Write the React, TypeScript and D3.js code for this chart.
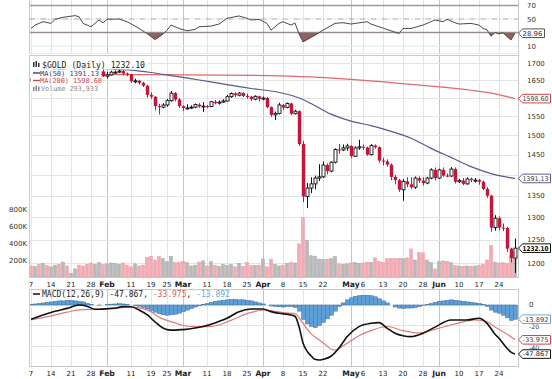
import React from "react";
import * as d3 from "d3";

// ---------- DATA ----------
const openP = [1657,1647,1657,1655,1677,1662,1669,1683,1681,1689,1687,1692,1692,1685,1669,1659,1654,1661,1676,1662,
1666,1674,1674,1677,1670,1667,1648,1649,1643,1635,1609,1604,1578,1575,1581,1593,1614,1596,1578,1573,
1573,1575,1582,1577,1578,1577,1590,1586,1589,1592,1604,1613,1608,1614,1606,1604,1597,1605,1598,1600,
1575,1554,1558,1581,1574,1585,1557,1564,1477,1348,1368,1378,1392,1395,1424,1409,1431,1463,1462,1467,
1472,1446,1467,1470,1468,1450,1473,1469,1435,1433,1425,1395,1387,1364,1384,1377,1370,1392,1386,1380,
1392,1412,1392,1412,1398,1397,1414,1383,1386,1378,1390,1387,1387,1383,1366,1350,1277,1298,1277,1276,
1231,1211];
const highP = [1662,1662,1663,1680,1681,1672,1686,1688,1693,1693,1695,1697,1696,1687,1672,1663,1666,1681,1684,1675,
1678,1679,1683,1680,1673,1669,1655,1652,1646,1637,1616,1605,1584,1586,1598,1620,1617,1600,1580,1583,
1580,1585,1586,1589,1581,1592,1595,1593,1597,1609,1616,1616,1617,1617,1612,1606,1608,1607,1604,1603,
1577,1563,1587,1584,1588,1587,1568,1566,1485,1380,1394,1398,1426,1433,1428,1433,1466,1477,1476,1478,
1474,1471,1488,1476,1470,1477,1476,1471,1442,1438,1428,1400,1390,1390,1394,1394,1396,1396,1394,1395,
1416,1418,1415,1418,1403,1419,1418,1390,1392,1394,1393,1392,1390,1386,1370,1352,1305,1302,1286,1279,
1233,1253];
const lowP = [1640,1643,1650,1652,1658,1660,1666,1677,1678,1682,1684,1686,1680,1664,1655,1649,1651,1659,1660,1656,
1664,1669,1671,1665,1662,1643,1642,1638,1631,1601,1598,1566,1555,1572,1576,1590,1591,1573,1565,1568,
1570,1572,1573,1562,1572,1575,1583,1582,1587,1590,1601,1603,1605,1603,1598,1592,1594,1591,1594,1572,
1549,1540,1555,1567,1572,1553,1555,1472,1335,1321,1356,1365,1385,1392,1401,1406,1428,1452,1459,1460,
1442,1444,1462,1462,1447,1448,1465,1430,1423,1420,1387,1377,1359,1338,1370,1366,1366,1380,1374,1377,
1389,1386,1390,1395,1394,1395,1379,1380,1375,1376,1382,1381,1376,1363,1345,1268,1270,1271,1269,1224,
1202,1180];
const closeP = [1647,1657,1655,1677,1662,1669,1683,1681,1689,1687,1692,1692,1685,1669,1659,1654,1661,1676,1662,1666,
1674,1674,1677,1670,1667,1648,1649,1643,1635,1609,1604,1578,1575,1581,1593,1614,1596,1578,1573,1573,
1575,1582,1577,1578,1577,1590,1586,1589,1592,1604,1613,1608,1614,1606,1604,1597,1605,1598,1600,1575,
1554,1558,1581,1574,1585,1557,1564,1477,1348,1368,1378,1392,1395,1424,1409,1431,1463,1462,1467,1472,
1446,1467,1470,1468,1450,1473,1469,1435,1433,1425,1395,1387,1364,1384,1377,1370,1392,1386,1380,1392,
1412,1392,1412,1398,1397,1414,1383,1386,1378,1390,1387,1387,1383,1366,1350,1277,1298,1277,1276,1231,
1211,1232.1];
const volumeK = [130,125,150,160,135,120,140,150,175,130,
45,95,140,130,150,165,150,170,145,155,
165,160,150,165,140,120,155,130,140,230,
245,200,240,215,180,245,170,175,185,170,
130,140,175,190,130,180,140,125,150,135,
150,120,160,125,170,135,135,140,210,120,
210,150,130,140,160,175,165,390,700,430,
250,245,210,205,210,215,240,155,150,155,
165,170,160,165,175,170,225,185,170,215,
220,215,220,215,225,330,200,290,285,200,
170,95,180,190,185,170,135,130,125,130,
125,130,140,150,200,370,175,165,170,160,
250,294];
const histVal = [0.5,1,1.5,2, 2.5,3,3.5,4,4, 4.5,4.5,4,3.5,3, 1.5,0.5,0,-0.2,0,0.3,
0.8,1,1.2,1,0.5, 0,-0.5,-1.2, -2.5,-4,-5.5,-7,-8.5, -9.5,-10,-9.5,-9,-8, -6.5,-5,-3.5,-2,-0.8,
0.5,1.5,2.5,3.5,4, 4.5,5,5.5,5.5,5, 5,4.5,4,3,2, 1,0,-1, -1.5,-1.8,-2,-1.5,-1.5,
-2.5,-6,-14,-18.5,-21,-22,-20,-17,-13.5,-10,-6,-1.5,
2,5,7,8.5,9,9.5,9.5,9,8,6,4,2,0,
-2,-3,-3.5,-3,-3,-2.5,-1.5,-0.5,
0.5,1.5,2.5,3.5,4,4.5,5,4.5,4,3.5,3,2.5,2,1.5,0.5,
-1.5,-5,-7,-8,-10,-12.5,-15,-13.892];

const macdIdx = [0,3,6,9,12,14,16,18,21,23,25,27,29,31,33,34,36,38,41,43,46,49,52,55,58,60,62,65,66,67,68,69,70,71,72,73,75,77,79,82,85,87,89,91,93,95,98,101,105,109,112,114,116,117,119,120,121];
const macdVal = [-14,-9.8,-6.2,-3.3,0,-1.2,-4.2,-4,-3,-1.6,-1.8,-4.9,-9.5,-16.5,-22.5,-24,-24.5,-24,-22.5,-21,-17.5,-13,-6.5,-3.9,-3.9,-6.5,-8.1,-9.8,-11,-21,-37,-45,-49.5,-53,-53.7,-53,-50,-42,-31,-21.1,-17.9,-17.2,-22.5,-27.5,-30,-30.9,-27.6,-21.6,-14.6,-14.6,-13,-17.9,-28.5,-32.4,-42.2,-46,-47.867];
const signalIdx = [0,5,9,12,16,21,25,28,30,32,34,36,38,40,44,47,50,54,58,60,63,66,68,70,72,74,75,76,78,80,82,85,89,93,97,101,106,111,114,116,118,120,121];
const signalVal = [-14.5,-10.7,-7,-4.8,-4.2,-3.5,-1.8,-3.5,-6.5,-12,-15,-17.5,-20,-21,-21.1,-19.5,-15,-8.5,-4.9,-5.5,-7.5,-8.5,-18,-28,-34,-40,-43,-44,-40,-35,-30,-25,-21,-25,-27.3,-23.8,-18.5,-14.6,-16.4,-21.5,-26,-31,-33.975];

const rsiIdx = [0,1,3,5,6,8,11,12,13,15,17,18,19,22,24,26,27,29,31,33,34,35,37,39,41,42,45,47,49,52,54,55,57,59,60,62,63,65,66,67,68,71,73,76,78,80,84,85,87,89,92,93,95,98,100,101,103,104,106,107,110,112,113,114,115,116,117,118,119,120,121];
const rsiVal = [36,41,46,43.5,49.5,52.5,55,53.5,43.5,38.5,48.5,44.5,49.5,50,46,39.5,36,28.5,19.5,27.5,33.5,41,36,32.5,34.5,38.5,39.5,42.5,51,54.5,51,48.5,49.5,43.5,33.5,43.5,46,41,44,28,16,26,33.5,43.5,44.5,42.5,46,42.5,38.5,34.5,28.5,36,36,41,46,48.5,46,49.5,44.5,42.5,43.5,41,36,34,24.5,30,28,29.5,24,19,28.96];

const ma50Idx = [0,10,15,20,25,30,35,40,45,50,55,60,65,68,70,75,80,85,90,95,100,105,110,115,118,121];
const ma50Val = [1692,1688,1686,1683,1680,1673,1664,1655,1646,1636,1627,1620,1608,1596,1585,1556,1537,1525,1510,1492,1466,1443,1420,1403,1396,1391.13];
const ma200Idx = [0,20,40,60,70,80,90,100,110,116,121];
const ma200Val = [1668,1667,1666,1664,1660,1653,1644,1634,1622,1612,1598.6];

const xTickIdx = [0,5,10,15,19,25,30,34,38,44,49,54,58,63,68,73,80,83,88,93,98,102,107,112,117];
const xTickLabel = ["7","14","21","28","Feb","11","19","25","Mar","11","18","25","Apr","8","15","22","May","6","13","20","28","Jun","10","17","24"];
const monthLabels = ["Feb","Mar","Apr","May","Jun"];
const priceTicks = [1200,1250,1300,1350,1400,1450,1500,1550,1600,1650,1700];
const volTicks = [200,400,600,800];
const rsiTicks = [70,50,10];
const macdTicks = [0,-20,-40];

// ---------- LAYOUT ----------
const FONT = "'DejaVu Sans', Verdana, sans-serif";
const MONO = "'DejaVu Sans Mono', monospace";
const X0 = 29.5, X1 = 518.5;
const RSI_BOT = 53.5;
const MAIN_TOP = 55.5, MAIN_BOT = 277.5;
const MACD_TOP = 289.5, MACD_BOT = 366.5;

function Tag({ y, text, stroke, color = "#333", bold = false, w = 32 }: any) {
  const x0 = 518.5, h = 4.3;
  const d = `M${x0},${y} L${x0 + 4},${y - h} L${x0 + w},${y - h} L${x0 + w},${y + h} L${x0 + 4},${y + h} Z`;
  return (
    <g>
      <path d={d} fill="#fff" stroke={stroke} strokeWidth={1} />
      <text x={x0 + 4} y={y + 2.4} fontSize={6.6} fontWeight={bold ? "bold" : "normal"} fill={color} fontFamily={FONT}
        textLength={w - 6} lengthAdjust="spacingAndGlyphs">{text}</text>
    </g>
  );
}

export default function App() {
  const N = closeP.length;
  const xc = d3.scaleLinear().domain([0, N - 1]).range([31, 515]);
  const yP = d3.scaleLog().domain([1200, 1700]).range([263.3, 63.3]);
  const yV = d3.scaleLinear().domain([0, 800]).range([277, 209]);
  const yR = d3.scaleLinear().domain([0, 100]).range([52.75, -14.75]);
  const yM = d3.scaleLinear().domain([-60, 15]).range([366.5, 289.6]);
  const px = (i: number) => Math.round(xc(i));

  const ma50Line = d3.line<number>().x((_, k) => xc(ma50Idx[k])).y((v) => yP(v)).curve(d3.curveMonotoneX)(ma50Val) || "";
  const ma200Line = d3.line<number>().x((_, k) => xc(ma200Idx[k])).y((v) => yP(v)).curve(d3.curveMonotoneX)(ma200Val) || "";
  const macdLine = d3.line<number>().x((_, k) => xc(macdIdx[k])).y((v) => yM(v)).curve(d3.curveMonotoneX)(macdVal) || "";
  const sigLine = d3.line<number>().x((_, k) => xc(signalIdx[k])).y((v) => yM(v)).curve(d3.curveMonotoneX)(signalVal) || "";
  const rsiLine = d3.line<number>().x((_, k) => xc(rsiIdx[k])).y((v) => yR(v))(rsiVal) || "";
  const rsiArea = d3.area<number>().x((_, k) => xc(rsiIdx[k])).y0(yR(30)).y1((v) => yR(v))(rsiVal) || "";

  // tags hide the tick labels under them, as in the reference
  const hiddenPrice = [1600, 1400];

  const vLines = (top: number, bot: number) =>
    xTickIdx.map((i, k) => {
      const isM = monthLabels.includes(xTickLabel[k]);
      return <line key={"v" + k} x1={px(i) + 0.5} x2={px(i) + 0.5} y1={top} y2={bot} stroke={isM ? "#c4c4c4" : "#e4e4e4"} strokeWidth={1} />;
    });

  const dateRow = (yb: number) =>
    xTickIdx.map((i, k) => {
      const isM = monthLabels.includes(xTickLabel[k]);
      return (
        <text key={"d" + yb + k} x={xc(i)} y={yb} textAnchor="middle" fontSize={isM ? 7.6 : 7} fontWeight={isM ? "bold" : "normal"} fill="#222" fontFamily={FONT}>
          {xTickLabel[k]}
        </text>
      );
    });

  return (
    <svg width={552} height={379} style={{ position: "absolute", left: 0, top: 0, background: "#fff" }}>
      <rect x={0} y={0} width={552} height={379} fill="#fff" />
      <defs>
        <clipPath id="rsiLow"><rect x={X0} y={yR(30)} width={X1 - X0} height={RSI_BOT - yR(30)} /></clipPath>
        <clipPath id="rsiPanel"><rect x={X0} y={0} width={X1 - X0} height={RSI_BOT} /></clipPath>
      </defs>

      {/* ---------- RSI panel ---------- */}
      {vLines(0, RSI_BOT)}
      <line x1={X0} x2={X1} y1={yR(10)} y2={yR(10)} stroke="#e6e6e6" />
      <line x1={X0} x2={X1} y1={yR(70)} y2={yR(70)} stroke="#9a9a9a" strokeWidth={1.3} />
      <line x1={X0} x2={X1} y1={yR(30)} y2={yR(30)} stroke="#9a9a9a" strokeWidth={1.3} />
      <line x1={X0} x2={X1} y1={yR(50)} y2={yR(50)} stroke="#a0a0a0" strokeWidth={0.9} strokeDasharray="6,2,1,2" />
      <path d={rsiArea} fill="#93605f" clipPath="url(#rsiLow)" />
      <path d={rsiLine} fill="none" stroke="#4a4a4a" strokeWidth={1} clipPath="url(#rsiPanel)" />
      <line x1={X0} x2={X0} y1={0} y2={RSI_BOT} stroke="#c8c8c8" />
      <line x1={X1} x2={X1} y1={0} y2={RSI_BOT} stroke="#c8c8c8" />
      <line x1={X0} x2={X1} y1={RSI_BOT} y2={RSI_BOT} stroke="#d0d0d0" strokeDasharray="1,1" />
      {rsiTicks.map((t) => (
        <text key={"r" + t} x={527} y={yR(t) + 2.5} fontSize={7} fill="#333" fontFamily={FONT}>{t}</text>
      ))}
      <Tag y={yR(28.96)} text="28.96" stroke="#555" w={26} />

      {/* ---------- Main panel ---------- */}
      {vLines(MAIN_TOP, MAIN_BOT)}
      {priceTicks.map((t) => (
        <line key={"h" + t} x1={X0} x2={X1} y1={Math.round(yP(t)) + 0.5} y2={Math.round(yP(t)) + 0.5} stroke="#e4e4e4" />
      ))}
      {/* volume */}
      {volumeK.map((v, i) => {
        const up = i === 0 ? closeP[i] >= openP[i] : closeP[i] >= closeP[i - 1];
        return (
          <rect key={"vb" + i} x={px(i) - 1.5} y={yV(v)} width={3} height={yV(0) - yV(v)}
            fill={up ? "#b9b9b9" : "#f3aab2"} stroke={up ? "#a5a5a5" : "#e99aa3"} strokeWidth={0.5} />
        );
      })}
      {/* moving averages */}
      <path d={ma200Line} fill="none" stroke="#e06a6a" strokeWidth={1.2} />
      <path d={ma50Line} fill="none" stroke="#585a92" strokeWidth={1.2} />
      {/* candles */}
      {closeP.map((c, i) => {
        const o = openP[i], h = highP[i], l = lowP[i];
        const up = c >= o;
        const x = px(i);
        const yTop = yP(Math.max(o, c)), yBot = yP(Math.min(o, c));
        const col = up ? "#111" : "#c4153a";
        return (
          <g key={"c" + i}>
            <line x1={x + 0.5} x2={x + 0.5} y1={yP(h)} y2={yP(l)} stroke={col} strokeWidth={1} />
            {up ? (
              <rect x={x - 1} y={yTop} width={3} height={Math.max(1, yBot - yTop)} fill="#fff" stroke="#111" strokeWidth={0.9} />
            ) : (
              <rect x={x - 1.2} y={yTop} width={3.4} height={Math.max(1, yBot - yTop)} fill="#c4153a" />
            )}
          </g>
        );
      })}
      {/* legend */}
      <rect x={X0 + 1} y={MAIN_TOP + 1} width={117} height={13} fill="#fff" />
      <rect x={X0 + 1} y={MAIN_TOP + 14} width={71} height={23} fill="#fff" />
      <g fontFamily={MONO}>
        <g fill="#333">
          <rect x={33} y={62} width={1.5} height={5} />
          <rect x={35.5} y={61} width={1.5} height={6} />
          <rect x={38} y={63} width={1.5} height={4} />
        </g>
        <text x={42} y={67.5} fill="#222" fontSize={8} textLength={103} lengthAdjust="spacingAndGlyphs">$GOLD (Daily) 1232.10</text>
        <line x1={33} x2={40} y1={73} y2={73} stroke="#3b3d78" strokeWidth={1.4} />
        <text x={40} y={75.5} fill="#3b3d78" fontSize={7} textLength={59} lengthAdjust="spacingAndGlyphs">MA(50) 1391.13</text>
        <line x1={33} x2={40} y1={80.5} y2={80.5} stroke="#d04545" strokeWidth={1.4} />
        <text x={40} y={83} fill="#d04545" fontSize={7} textLength={62} lengthAdjust="spacingAndGlyphs">MA(200) 1598.60</text>
        <g fill="#888">
          <rect x={33} y={87} width={1.5} height={4} />
          <rect x={35.5} y={85.5} width={1.5} height={5.5} />
          <rect x={38} y={86.5} width={1.5} height={4.5} />
        </g>
        <text x={41} y={90.5} fill="#888" fontSize={7} textLength={57} lengthAdjust="spacingAndGlyphs">Volume 293,933</text>
      </g>
      <rect x={X0} y={MAIN_TOP} width={X1 - X0} height={MAIN_BOT - MAIN_TOP} fill="none" stroke="#c8c8c8" />
      {priceTicks.filter((t) => !hiddenPrice.includes(t)).map((t) => (
        <text key={"pt" + t} x={527} y={yP(t) + 2.5} fontSize={7} fill="#333" fontFamily={FONT}>{t}</text>
      ))}
      {volTicks.map((t) => (
        <text key={"vt" + t} x={27} y={yV(t) + 2.5} textAnchor="end" fontSize={7} fill="#333" fontFamily={FONT}>{t}K</text>
      ))}
      <Tag y={yP(1598.6)} text="1598.60" stroke="#d04545" color="#444" />
      <Tag y={yP(1391.13)} text="1391.13" stroke="#585a92" color="#444" />
      <Tag y={yP(1232.1)} text="1232.10" stroke="#111" color="#000" bold={true} />

      {/* date row middle */}
      {dateRow(286.5)}

      {/* ---------- MACD panel ---------- */}
      {vLines(MACD_TOP, MACD_BOT)}
      {macdTicks.map((t) => (
        <line key={"mh" + t} x1={X0} x2={X1} y1={Math.round(yM(t)) + 0.5} y2={Math.round(yM(t)) + 0.5} stroke="#e4e4e4" />
      ))}
      {histVal.map((v, i) => {
        const y0 = yM(0), y1 = yM(v);
        return (
          <rect key={"hb" + i} x={px(i) - 1.5} y={Math.min(y0, y1)} width={4} height={Math.abs(y1 - y0)}
            fill="#5d9fd6" stroke="#3a6f9f" strokeWidth={0.5} />
        );
      })}
      <path d={sigLine} fill="none" stroke="#e07a7a" strokeWidth={1.2} />
      <path d={macdLine} fill="none" stroke="#111" strokeWidth={1.6} />
      <rect x={X0} y={MACD_TOP} width={X1 - X0} height={MACD_BOT - MACD_TOP} fill="none" stroke="#c8c8c8" />
      <g fontFamily={MONO} fontSize={8}>
        <line x1={33} x2={40} y1={294} y2={294} stroke="#111" strokeWidth={1.5} />
        <text x={42} y={297} fill="#222">
          MACD(12,26,9) -47.867, <tspan fill="#d06060">-33.975</tspan><tspan fill="#222">, </tspan><tspan fill="#6aa7d8">-13.892</tspan>
        </text>
      </g>
      {macdTicks.map((t) => (
        <text key={"mt" + t} x={529} y={yM(t) + (t === 0 ? 2.5 : 3.6)} fontSize={t === 0 ? 7 : 6.2} fill="#333" fontFamily={FONT}>{t}</text>
      ))}
      <Tag y={yM(-13.892)} text="-13.892" stroke="#6aa7d8" color="#444" />
      <Tag y={yM(-33.975)} text="-33.975" stroke="#d04545" color="#444" />
      <Tag y={yM(-47.867)} text="-47.867" stroke="#111" color="#222" />

      {dateRow(376)}
    </svg>
  );
}
